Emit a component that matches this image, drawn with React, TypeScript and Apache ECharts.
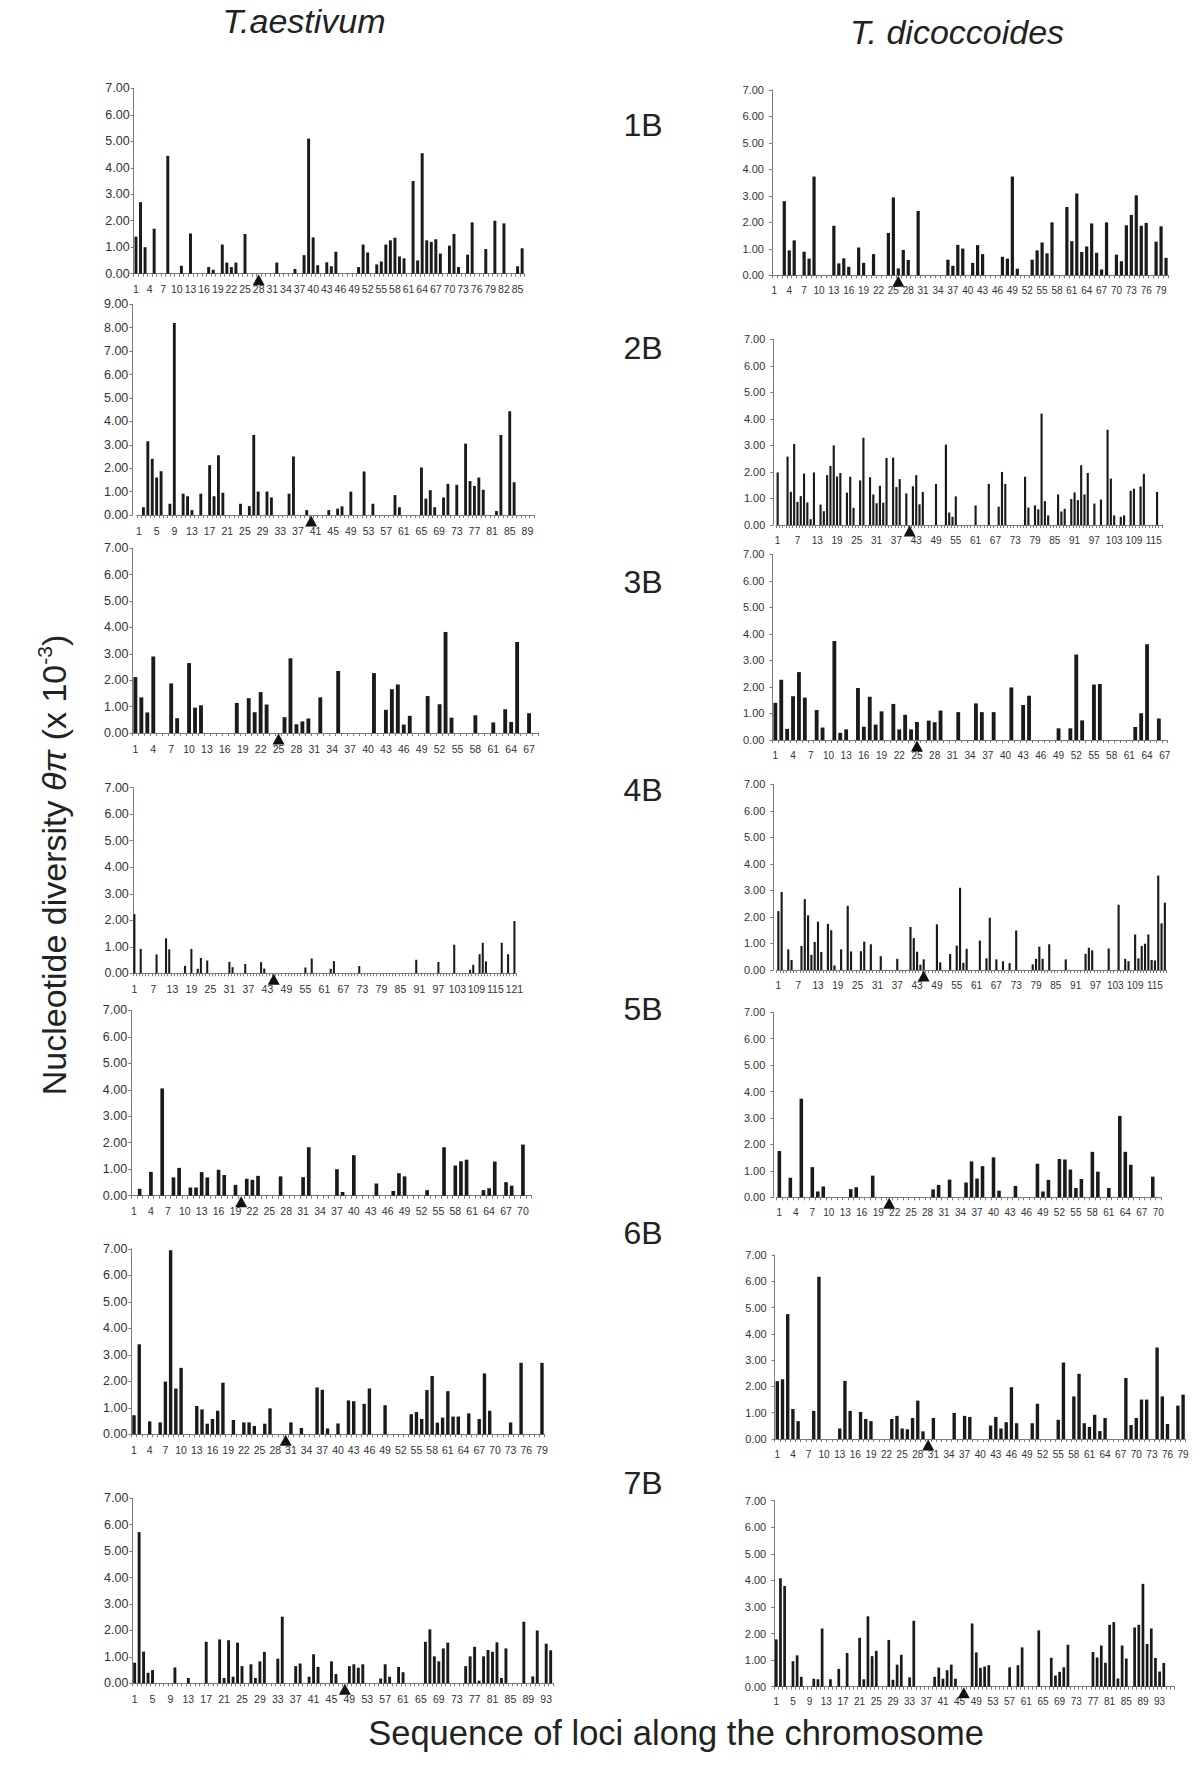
import React, { useEffect, useRef } from "react";
import * as echarts from "echarts";

const FONT = "'Liberation Sans', Arial, Helvetica, sans-serif";

// ---- T. aestivum (left column): [locus, nucleotide diversity x10^-3] ----
const aes1B: [number, number][] = [[1,1.4],[2,2.7],[3,1.0],[5,1.7],[8,4.45],[11,0.3],[13,1.52],[17,0.25],[18,0.15],[20,1.1],[21,0.42],[22,0.25],[23,0.42],[25,1.5],[32,0.42],[36,0.18],[38,0.7],[39,5.1],[40,1.37],[41,0.32],[43,0.43],[44,0.28],[45,0.83],[50,0.25],[51,1.1],[52,0.8],[54,0.35],[55,0.46],[56,1.1],[57,1.26],[58,1.36],[59,0.65],[60,0.58],[62,3.5],[63,0.5],[64,4.55],[65,1.26],[66,1.2],[67,1.3],[68,0.76],[70,1.06],[71,1.5],[72,0.25],[74,0.72],[75,1.94],[78,0.93],[80,2.0],[82,1.9],[85,0.28],[86,0.96]];
const aes2B: [number, number][] = [[2,0.33],[3,3.15],[4,2.4],[5,1.6],[6,1.87],[8,0.48],[9,8.2],[11,0.91],[12,0.8],[13,0.21],[15,0.91],[17,2.13],[18,0.8],[19,2.55],[20,0.95],[24,0.48],[26,0.38],[27,3.42],[28,1.0],[30,1.0],[31,0.75],[35,0.91],[36,2.5],[39,0.21],[44,0.21],[46,0.27],[47,0.37],[49,1.0],[52,1.86],[54,0.48],[59,0.85],[60,0.33],[65,2.03],[66,0.7],[67,1.06],[68,0.33],[70,0.75],[71,1.33],[73,1.29],[75,3.05],[76,1.45],[77,1.24],[78,1.6],[79,1.08],[82,0.17],[83,3.42],[85,4.43],[86,1.4]];
const aes3B: [number, number][] = [[1,2.12],[2,1.35],[3,0.78],[4,2.9],[7,1.88],[8,0.56],[10,2.65],[11,0.96],[12,1.05],[18,1.14],[20,1.32],[21,0.79],[22,1.55],[23,1.08],[26,0.6],[27,2.83],[28,0.33],[29,0.44],[30,0.55],[32,1.35],[35,2.35],[41,2.27],[43,0.88],[44,1.66],[45,1.84],[46,0.32],[47,0.65],[50,1.4],[52,1.09],[53,3.83],[54,0.58],[58,0.67],[61,0.4],[63,0.9],[64,0.42],[65,3.45],[67,0.75]];
const aes4B: [number, number][] = [[1,2.23],[3,0.92],[8,0.71],[11,1.32],[12,0.9],[17,0.28],[19,0.92],[21,0.17],[22,0.58],[24,0.48],[31,0.43],[32,0.23],[36,0.35],[41,0.42],[42,0.18],[55,0.22],[57,0.56],[63,0.17],[64,0.46],[72,0.27],[90,0.51],[97,0.43],[102,1.08],[107,0.13],[108,0.32],[110,0.72],[111,1.15],[112,0.45],[117,1.15],[119,0.72],[121,1.97]];
const aes5B: [number, number][] = [[2,0.26],[4,0.9],[6,4.05],[8,0.69],[9,1.05],[11,0.31],[12,0.31],[13,0.89],[14,0.69],[16,0.98],[17,0.78],[19,0.41],[21,0.64],[22,0.6],[23,0.75],[27,0.73],[31,0.7],[32,1.83],[37,1.0],[38,0.14],[40,1.53],[44,0.46],[47,0.18],[48,0.85],[49,0.73],[53,0.21],[56,1.83],[58,1.14],[59,1.3],[60,1.36],[63,0.21],[64,0.28],[65,1.29],[67,0.51],[68,0.38],[70,1.93]];
const aes6B: [number, number][] = [[1,0.72],[2,3.4],[4,0.49],[6,0.45],[7,1.99],[8,6.95],[9,1.73],[10,2.51],[13,1.07],[14,0.94],[15,0.4],[16,0.58],[17,0.89],[18,1.95],[20,0.54],[22,0.45],[23,0.45],[24,0.31],[26,0.4],[27,0.98],[31,0.45],[33,0.24],[36,1.77],[37,1.68],[38,0.22],[40,0.41],[42,1.28],[43,1.25],[45,1.15],[46,1.73],[49,1.1],[54,0.76],[55,0.84],[56,0.58],[57,1.67],[58,2.2],[59,0.44],[60,0.63],[61,1.63],[62,0.67],[63,0.67],[65,0.79],[67,0.58],[68,2.3],[69,0.89],[73,0.45],[75,2.7],[79,2.7]];
const aes7B: [number, number][] = [[1,0.78],[2,5.72],[3,1.2],[4,0.4],[5,0.5],[10,0.6],[13,0.2],[17,1.57],[20,1.66],[21,0.2],[22,1.63],[23,0.25],[24,1.54],[25,0.65],[27,0.72],[28,0.2],[29,0.83],[30,1.19],[33,0.93],[34,2.52],[37,0.65],[38,0.75],[40,0.25],[41,1.1],[42,0.62],[45,0.83],[46,0.35],[49,0.65],[50,0.72],[51,0.59],[52,0.72],[56,0.18],[57,0.72],[58,0.25],[60,0.62],[61,0.42],[66,1.57],[67,2.04],[68,1.02],[69,0.83],[70,1.32],[71,1.54],[75,0.65],[76,1.02],[77,1.38],[78,0.1],[79,1.02],[80,1.26],[81,1.19],[82,1.55],[83,0.2],[84,1.32],[88,2.33],[90,0.26],[91,2.0],[93,1.5],[94,1.25]];

// ---- T. dicoccoides (right column) ----
const dic1B: [number, number][] = [[3,2.8],[4,0.94],[5,1.32],[7,0.89],[8,0.63],[9,3.73],[13,1.87],[14,0.45],[15,0.64],[16,0.32],[18,1.05],[19,0.47],[21,0.8],[24,1.6],[25,2.94],[26,0.26],[27,0.96],[28,0.58],[30,2.43],[36,0.59],[37,0.36],[38,1.15],[39,1.01],[41,0.47],[42,1.14],[43,0.8],[47,0.7],[48,0.63],[49,3.73],[50,0.25],[53,0.59],[54,0.94],[55,1.24],[56,0.83],[57,2.0],[60,2.58],[61,1.29],[62,3.09],[63,0.88],[64,1.09],[65,1.96],[66,0.85],[67,0.22],[68,2.0],[70,0.78],[71,0.53],[72,1.89],[73,2.28],[74,3.02],[75,1.87],[76,1.98],[78,1.27],[79,1.85],[80,0.66]];
const dic2B: [number, number][] = [[1,1.98],[4,2.58],[5,1.25],[6,3.05],[7,0.87],[8,1.09],[9,1.94],[10,0.85],[11,0.22],[12,1.98],[14,0.77],[15,0.52],[16,1.88],[17,2.23],[18,3.0],[19,1.83],[20,1.96],[22,1.22],[23,1.82],[24,0.65],[26,1.68],[27,3.29],[29,1.8],[30,1.15],[31,0.82],[32,1.48],[33,0.84],[34,2.53],[36,2.54],[37,1.43],[38,1.73],[40,1.19],[42,1.46],[43,1.88],[44,0.78],[45,1.25],[49,1.55],[52,3.03],[53,0.47],[54,0.31],[55,1.08],[61,0.74],[65,1.55],[68,0.69],[69,2.0],[70,1.55],[76,1.82],[77,0.66],[79,0.74],[80,0.59],[81,4.2],[82,0.9],[83,0.36],[86,1.15],[87,0.51],[88,0.61],[90,0.98],[91,1.23],[92,0.94],[93,2.25],[94,1.15],[95,1.96],[97,0.81],[99,0.96],[101,3.59],[102,1.75],[103,0.36],[105,0.31],[106,0.36],[108,1.29],[109,1.37],[111,1.45],[112,1.93],[116,1.25]];
const dic3B: [number, number][] = [[1,1.4],[2,2.27],[3,0.42],[4,1.65],[5,2.56],[6,1.6],[8,1.13],[9,0.47],[11,3.73],[12,0.27],[13,0.4],[15,1.96],[16,0.5],[17,1.63],[18,0.58],[19,1.08],[21,1.36],[22,0.4],[23,0.95],[24,0.4],[25,0.68],[27,0.73],[28,0.67],[29,1.11],[32,1.05],[35,1.38],[36,1.05],[38,1.05],[41,1.98],[43,1.32],[44,1.67],[49,0.44],[51,0.44],[52,3.22],[53,0.74],[55,2.09],[56,2.11],[62,0.49],[63,1.01],[64,3.61],[66,0.81]];
const dic4B: [number, number][] = [[1,2.22],[2,2.94],[4,0.78],[5,0.38],[8,0.91],[9,2.67],[10,2.06],[11,0.57],[12,1.06],[13,1.82],[14,0.68],[16,1.74],[17,1.5],[18,0.17],[20,0.78],[22,2.42],[23,0.7],[26,0.71],[27,1.07],[29,0.97],[32,0.52],[37,0.42],[41,1.62],[42,1.2],[43,0.69],[44,0.2],[45,0.4],[49,1.72],[50,0.29],[53,0.6],[55,0.92],[56,3.1],[57,0.27],[58,0.8],[62,1.11],[64,0.44],[65,1.97],[67,0.4],[69,0.33],[71,0.26],[73,1.49],[78,0.21],[79,0.42],[80,0.88],[81,0.42],[83,0.97],[88,0.4],[94,0.61],[95,0.84],[96,0.74],[101,0.81],[104,2.46],[106,0.42],[107,0.33],[109,1.34],[110,0.44],[111,0.91],[112,0.99],[113,1.34],[114,0.38],[115,0.36],[116,3.56],[117,1.76],[118,2.54]];
const dic5B: [number, number][] = [[1,1.75],[3,0.74],[5,3.73],[7,1.14],[8,0.22],[9,0.41],[14,0.31],[15,0.38],[18,0.82],[29,0.3],[30,0.47],[32,0.67],[35,0.56],[36,1.36],[37,0.71],[38,1.18],[40,1.51],[41,0.25],[44,0.43],[48,1.27],[49,0.22],[50,0.66],[52,1.45],[53,1.43],[54,1.05],[55,0.35],[56,0.69],[58,1.72],[59,0.97],[61,0.35],[63,3.08],[64,1.72],[65,1.23],[69,0.78]];
const dic6B: [number, number][] = [[1,2.2],[2,2.27],[3,4.75],[4,1.14],[5,0.68],[8,1.07],[9,6.17],[13,0.4],[14,2.21],[15,1.07],[17,1.03],[18,0.76],[19,0.68],[23,0.76],[24,0.88],[25,0.4],[26,0.37],[27,0.8],[28,1.46],[29,0.29],[31,0.8],[35,0.99],[37,0.88],[38,0.84],[42,0.51],[43,0.84],[44,0.4],[45,0.64],[46,1.97],[47,0.6],[50,0.6],[51,1.34],[55,0.73],[56,2.91],[58,1.62],[59,2.48],[60,0.6],[61,0.46],[62,0.92],[63,0.3],[64,0.8],[68,2.32],[69,0.53],[70,0.8],[71,1.5],[72,1.5],[74,3.48],[75,1.62],[76,0.57],[78,1.27],[79,1.69]];
const dic7B: [number, number][] = [[1,1.78],[2,4.08],[3,3.79],[5,0.96],[6,1.18],[7,0.37],[10,0.3],[11,0.28],[12,2.19],[14,0.28],[16,0.67],[18,1.27],[21,1.84],[22,0.28],[23,2.65],[24,1.15],[25,1.35],[28,1.76],[29,0.26],[30,0.83],[31,1.2],[33,0.35],[34,2.48],[39,0.37],[40,0.72],[41,0.3],[42,0.62],[43,0.83],[44,0.3],[48,2.38],[49,1.29],[50,0.71],[51,0.76],[52,0.81],[57,0.73],[59,0.81],[60,1.48],[64,2.12],[67,1.09],[68,0.42],[69,0.56],[70,0.73],[71,1.58],[77,1.31],[78,1.1],[79,1.55],[80,0.9],[81,2.33],[82,2.43],[83,0.31],[84,1.55],[85,1.06],[87,2.23],[88,2.33],[89,3.87],[90,1.61],[91,2.19],[92,1.08],[93,0.57],[94,0.89]];

// loci count per chromosome, tick-label step, y max, centromere marker locus
const lociCount = { aes: [86, 90, 68, 121, 71, 79, 94], dic: [80, 117, 67, 118, 70, 79, 96] };
const labelStep = { aes: [3, 4, 3, 6, 3, 3, 4], dic: [3, 6, 3, 6, 3, 3, 4] };
const yMax = { aes: [7, 9, 7, 7, 7, 7, 7], dic: [7, 7, 7, 7, 7, 7, 7] };
const centromere = { aes: [28, 40, 25, 45, 20, 30, 48], dic: [26, 41, 25, 45, 21, 30, 46] };
const chromosomes = ["1B", "2B", "3B", "4B", "5B", "6B", "7B"];
const speciesTitles = ["T.aestivum", "T. dicoccoides"];

// layout (pixels): [left, right, top, bottom, yAxisOffset]
const layoutAes = [
  [133.7, 524.4, 88.3, 273.7, 0],
  [136.8, 534, 304.3, 515, 4.5],
  [132.4, 538, 548.3, 733, 0],
  [132.8, 516, 787.7, 973.3, 0],
  [131.2, 531.4, 1010.3, 1195.7, 0],
  [131.4, 544.6, 1249, 1434.3, 0],
  [132.4, 552.9, 1498.3, 1683.3, 0],
];
const layoutDic = [
  [771.9, 1168.5, 90, 275.3, 0],
  [776, 1162, 339.3, 525, 2.7],
  [772.4, 1167.7, 554.3, 740, 0],
  [776.7, 1166.5, 784.3, 970, 3.4],
  [776.6, 1161, 1012.3, 1197.3, 3.3],
  [774.7, 1185.7, 1255, 1439, 0],
  [774.2, 1174.2, 1500.7, 1686.7, 0],
];
const rowLabelY = [125, 348, 582, 790, 1009, 1233, 1483];

const aesData = [aes1B, aes2B, aes3B, aes4B, aes5B, aes6B, aes7B];
const dicData = [dic1B, dic2B, dic3B, dic4B, dic5B, dic6B, dic7B];

export default function App() {
  const ref = useRef<HTMLDivElement>(null);
  useEffect(() => {
    const chart = echarts.init(ref.current!, null, { renderer: "svg" });
    const grid: any[] = [];
    const xAxis: any[] = [];
    const yAxis: any[] = [];
    const series: any[] = [];
    const axisColor = "#7a7a7a";

    const addPanel = (data: [number, number][], n: number, step: number, max: number, mark: number, lay: number[], left: boolean) => {
      const i = grid.length;
      grid.push({ left: lay[0], top: lay[2], width: lay[1] - lay[0], height: lay[3] - lay[2], outerBoundsMode: "none" });
      const cats = Array.from({ length: n }, (_, k) => String(k + 1));
      const vals = new Array(n).fill(0);
      data.forEach(([c, v]) => { vals[c - 1] = v; });
      xAxis.push({
        type: "category", gridIndex: i, data: cats, boundaryGap: true,
        axisLine: { show: true, lineStyle: { color: axisColor, width: 1 } },
        axisTick: { show: true, interval: 0, length: 3, lineStyle: { color: axisColor } },
        axisLabel: { interval: step - 1, fontSize: left ? 10.5 : 10, color: "#333", margin: 10, fontFamily: FONT },
      });
      yAxis.push({
        type: "value", gridIndex: i, min: 0, max, interval: 1, offset: lay[4],
        axisLine: { show: true, lineStyle: { color: axisColor, width: 1 } },
        axisTick: { show: true, length: 3, lineStyle: { color: axisColor } },
        splitLine: { show: false },
        axisLabel: { formatter: (v: number) => v.toFixed(2), fontSize: left ? 12.5 : 11, color: "#333", margin: left ? 4 : 8, fontFamily: FONT },
      });
      series.push({
        type: "bar", xAxisIndex: i, yAxisIndex: i, data: vals, barWidth: "65%",
        itemStyle: { color: "#1a1a1a" },
        markPoint: {
          symbol: "triangle", symbolSize: [12, 11], symbolOffset: [0, 6],
          itemStyle: { color: "#111" }, label: { show: false },
          data: [{ coord: [String(mark), 0] }],
        },
      });
    };

    for (let r = 0; r < 7; r++) {
      addPanel(aesData[r], lociCount.aes[r], labelStep.aes[r], yMax.aes[r], centromere.aes[r], layoutAes[r], true);
      addPanel(dicData[r], lociCount.dic[r], labelStep.dic[r], yMax.dic[r], centromere.dic[r], layoutDic[r], false);
    }

    const graphic: any[] = [
      { type: "text", x: 304, y: 21, style: { text: speciesTitles[0], fontSize: 34, fontStyle: "italic", fontFamily: FONT, fill: "#222", textAlign: "center", textVerticalAlign: "middle" } },
      { type: "text", x: 957, y: 32, style: { text: speciesTitles[1], fontSize: 34, fontStyle: "italic", fontFamily: FONT, fill: "#222", textAlign: "center", textVerticalAlign: "middle" } },
      ...chromosomes.map((c, r) => ({
        type: "text", x: 643, y: rowLabelY[r],
        style: { text: c, fontSize: 32, fontFamily: FONT, fill: "#222", textAlign: "center", textVerticalAlign: "middle" },
      })),
      {
        type: "text", x: 54, y: 865, rotation: Math.PI / 2,
        style: {
          text: "{a|Nucleotide diversity }{b|θπ}{a| (x 10}{c|-3}{a|)}",
          textAlign: "center", textVerticalAlign: "middle", fill: "#222",
          rich: {
            a: { fontSize: 34, fontFamily: FONT, fill: "#222", lineHeight: 40 },
            b: { fontSize: 34, fontFamily: FONT, fontStyle: "italic", fill: "#222", lineHeight: 40 },
            c: { fontSize: 21, fontFamily: FONT, fill: "#222", verticalAlign: "top", lineHeight: 40 },
          },
        },
      },
      { type: "text", x: 676, y: 1733, style: { text: "Sequence of loci along the chromosome", fontSize: 34.5, fontFamily: FONT, fill: "#222", textAlign: "center", textVerticalAlign: "middle" } },
    ];

    chart.setOption({ animation: false, backgroundColor: "#ffffff", grid, xAxis, yAxis, series, graphic });
    return () => chart.dispose();
  }, []);
  return <div ref={ref} style={{ position: "absolute", left: 0, top: 0, width: 1200, height: 1778 }} />;
}
